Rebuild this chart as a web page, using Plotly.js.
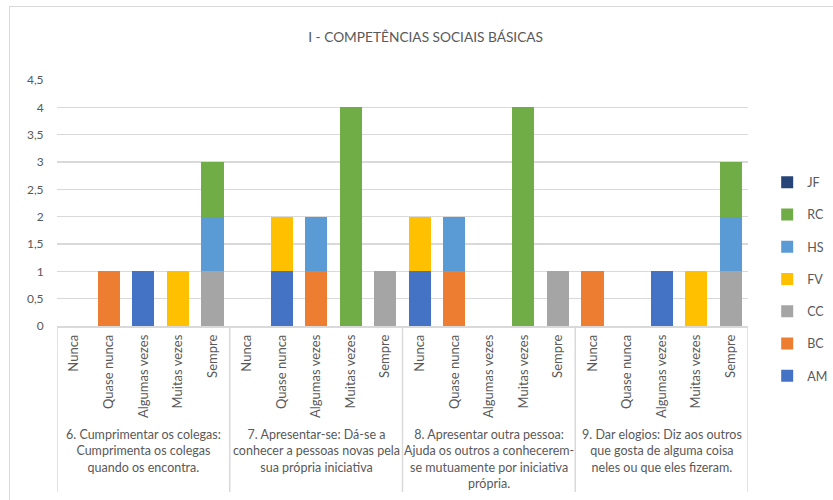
<!DOCTYPE html>
<html>
<head>
<meta charset="utf-8">
<script src="https://cdn.plot.ly/plotly-3.0.1.min.js"></script>
<style>
  html, body { margin: 0; padding: 0; background: #fff; overflow: hidden; }
  #wrap { position: relative; width: 833px; height: 500px; }
  #frame { position: absolute; left: 9px; top: 6px; width: 840px; height: 600px; border: 1.5px solid #d9d9d9; box-sizing: border-box; pointer-events: none; }
  #chart { position: absolute; left: 0; top: 0; width: 833px; height: 500px; }
</style>
</head>
<body>
<div id="wrap">
  <div id="chart"></div>
  <div id="frame"></div>
</div>
<script>
// ---- data ----
var categories = ["Nunca", "Quase nunca", "Algumas vezes", "Muitas vezes", "Sempre"];
var groups = [
  "6. Cumprimentar os colegas:<br>Cumprimenta os colegas<br>quando os encontra.",
  "7. Apresentar-se: Dá-se a<br>conhecer a pessoas novas pela<br>sua própria iniciativa",
  "8. Apresentar outra pessoa:<br>Ajuda os outros a conhecerem-<br>se mutuamente por iniciativa<br>própria.",
  "9. Dar elogios: Diz aos outros<br>que gosta de alguma coisa<br>neles ou que eles fizeram."
];
var seriesNames = ["AM", "BC", "CC", "FV", "HS", "RC", "JF"];
var AM = [0,0,1,0,0,  0,1,0,0,0,  1,0,0,0,0,  0,0,1,0,0];
var BC = [0,1,0,0,0,  0,0,1,0,0,  0,1,0,0,0,  1,0,0,0,0];
var CC = [0,0,0,0,1,  0,0,0,0,1,  0,0,0,0,1,  0,0,0,0,1];
var FV = [0,0,0,1,0,  0,1,0,0,0,  1,0,0,0,0,  0,0,0,1,0];
var HS = [0,0,0,0,1,  0,0,1,0,0,  0,1,0,0,0,  0,0,0,0,1];
var RC = [0,0,0,0,1,  0,0,0,4,0,  0,0,0,4,0,  0,0,0,0,1];
var JF = [0,0,0,0,0,  0,0,0,0,0,  0,0,0,0,0,  0,0,0,0,0];
var seriesValues = [AM, BC, CC, FV, HS, RC, JF];
var seriesColors = ["#4472C4", "#ED7D31", "#A5A5A5", "#FFC000", "#5B9BD5", "#70AD47", "#264478"];
var yTicks = [0, 0.5, 1, 1.5, 2, 2.5, 3, 3.5, 4, 4.5];
var titleText = "I - COMPETÊNCIAS SOCIAIS BÁSICAS";

// ---- build ----
var FONT = "Lato, 'Open Sans', sans-serif";
var GREY = "#595959";
var nCat = categories.length;
var xIdx = [], xText = [];
groups.forEach(function (g, gi) {
  categories.forEach(function (c, ci) { xIdx.push(gi * nCat + ci); xText.push(c); });
});

var traces = seriesNames.map(function (name, i) {
  return {
    type: "bar", name: name, x: xIdx, y: seriesValues[i],
    legendgroup: name,
    legendrank: (seriesNames.length - i) * 100,
    marker: { color: seriesColors[i], line: { width: 0 } },
    hoverinfo: "name+y"
  };
});

var shapes = [];
for (var g = 0; g <= groups.length; g++) {
  shapes.push({
    type: "line", xref: "x", yref: "paper",
    x0: g * nCat - 0.5, x1: g * nCat - 0.5, y0: 0, y1: -0.675,
    line: { color: "#d9d9d9", width: 1.5 }
  });
}

var annotations = groups.map(function (g, gi) {
  return {
    xref: "x", yref: "paper", x: gi * nCat + (nCat - 1) / 2, y: -0.402,
    xanchor: "center", yanchor: "top", text: g, showarrow: false, align: "center",
    font: { family: FONT, size: 12.5, color: GREY }
  };
});

var layout = {
  width: 833, height: 500,
  margin: { l: 57, r: 85, t: 80, b: 174 },
  paper_bgcolor: "rgba(0,0,0,0)", plot_bgcolor: "rgba(0,0,0,0)",
  separators: ",.",
  font: { family: FONT, size: 12, color: GREY },
  title: {
    text: titleText, xref: "container", x: 0.511, yref: "container", y: 0.926,
    xanchor: "center", yanchor: "middle",
    font: { family: FONT, size: 13.7, color: GREY }
  },
  barmode: "stack", bargap: 0.36,
  xaxis: {
    range: [-0.5, xIdx.length - 0.5],
    tickmode: "array", tickvals: xIdx, ticktext: xText, tickangle: -90,
    showgrid: false, zeroline: false, showline: true, linecolor: "#d9d9d9", linewidth: 1.5,
    ticks: "", ticklen: 0, ticklabelstandoff: 2,
    tickfont: { family: FONT, size: 13, color: GREY }
  },
  yaxis: {
    range: [0, 4.5], tickmode: "array", tickvals: yTicks,
    ticktext: yTicks.map(function (v) { return String(v).replace(".", ","); }),
    showgrid: true, gridcolor: "#d9d9d9", gridwidth: 1.5, zeroline: false, showline: false,
    ticks: "outside", ticklen: 10, tickcolor: "rgba(0,0,0,0)",
    tickfont: { family: FONT, size: 12, color: GREY }
  },
  legend: {
    xref: "container", yref: "container", x: 0.921, y: 0.665, xanchor: "left", yanchor: "top",
    traceorder: "grouped", tracegroupgap: 13,
    font: { family: FONT, size: 12.5, color: GREY },
    bgcolor: "rgba(0,0,0,0)"
  },
  shapes: shapes,
  annotations: annotations
};

Plotly.newPlot("chart", traces, layout, { displayModeBar: false, staticPlot: true });
</script>
</body>
</html>
